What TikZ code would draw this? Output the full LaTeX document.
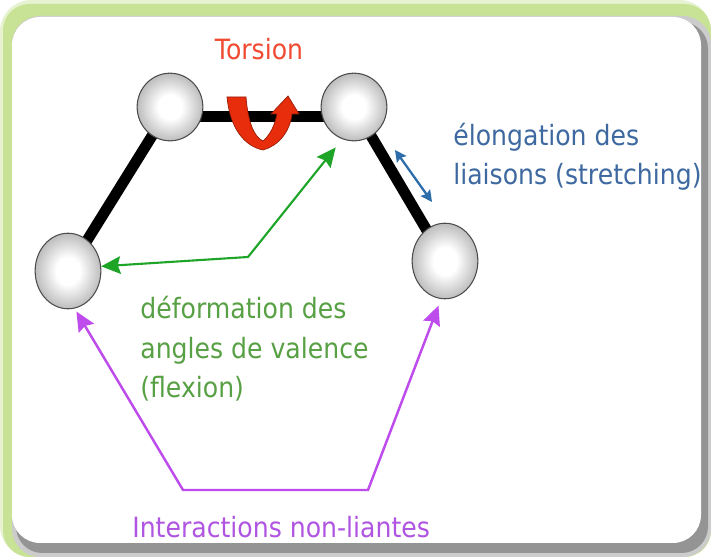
\documentclass[tikz,border=0pt]{standalone}
\usepackage{fontspec}
\setmainfont{DejaVu Sans}[FakeStretch=0.9]
\usetikzlibrary{arrows.meta,shapes.geometric,positioning}
\definecolor{torsionred}{RGB}{240,75,50}
\definecolor{ribbonred}{RGB}{232,45,12}
\definecolor{stretchblue}{RGB}{62,105,160}
\definecolor{arrowblue}{RGB}{45,110,170}
\definecolor{flexgreen}{RGB}{88,160,68}
\definecolor{arrowgreen}{RGB}{30,165,40}
\definecolor{nbviolet}{RGB}{175,85,225}
\definecolor{arrowviolet}{RGB}{190,75,235}
\definecolor{glowgreen}{RGB}{200,226,150}
\pgfdeclareradialshading{atomshade}{\pgfpoint{0bp}{0bp}}{color(0bp)=(white);
 color(9bp)=(white); color(25bp)=(black!26); color(50bp)=(black!26)}
\begin{document}
\begin{tikzpicture}[x=0.02cm,y=-0.02cm,>=Stealth,line cap=round,
 atom/.style={ellipse,draw=black!70,line width=.6pt,inner sep=0pt,
  shading=atomshade,minimum width=37.4pt,minimum height=38.5pt},
 bond/.style={line width=6.2pt,line cap=butt},
 tip/.style={{Stealth[length=11pt,width=10pt,inset=1.5pt]}-{Stealth[length=11pt,width=10pt,inset=1.5pt]}},
 lbl/.style={font=\fontsize{15.9}{22.7}\selectfont,inner sep=0pt,align=left}]
 \useasboundingbox (0,0) rectangle (711,557);
 \fill[white] (0,0) rectangle (711,557);
 \fill[glowgreen!45,rounded corners=18pt] (0,0) rectangle (711,557);
 \fill[glowgreen,rounded corners=15pt] (3,4) rectangle (711,557);
 \fill[black!20,rounded corners=16pt] (12,16) rectangle (711,557);
 \fill[black!42,rounded corners=15pt] (16,22) rectangle (708,553);
 \fill[white,rounded corners=16pt] (12,17) rectangle (701,543);
 \coordinate (c1) at (170,107);
 \coordinate (c2) at (354,107);
 \coordinate (c3) at (68,271);
 \coordinate (c4) at (445,261);
 \draw[bond] (c3) -- (c1);
 \draw[bond] ([yshift=-5.5pt]c1) -- ([yshift=-5.5pt]c2);
 \draw[bond] (c2) -- (c4);
 \node[atom] (A1) at (c1) {};
 \node[atom] (A2) at (c2) {};
 \node[atom,minimum height=43pt] (A3) at (c3) {};
 \node[atom,minimum height=43pt] (A4) at (c4) {};
 \fill[ribbonred,draw=ribbonred!65!black,line width=.4pt]
  (227,97) -- (246,97) .. controls (248,122) and (254,137) .. (263,141)
  .. controls (270,135) and (275,125) .. (277,114) -- (271,114) -- (288,96)
  -- (299,114) -- (292,114) .. controls (290,132) and (278,146) .. (263,150)
  .. controls (244,146) and (230,128) .. (227,97) -- cycle;
 \coordinate (s1) at (395,150);
 \coordinate (s2) at (432,202);
 \draw[{Stealth[length=6.5pt,width=6.5pt,inset=1pt]}-{Stealth[length=6.5pt,width=6.5pt,inset=1pt]},arrowblue,line width=1.3pt] (s1) -- (s2);
 \draw[tip,arrowgreen,line width=1.2pt,shorten >=6pt]
  (A3.8) -- (248,257) -- (A2.250);
 \draw[tip,arrowviolet,line width=1.4pt,shorten <=2pt,shorten >=4pt]
  (A3.280) -- (183,490) -- (368,490) -- (A4.264);
 \node[lbl,text=torsionred,anchor=base] (tors) at (259,60) {Torsion};
 \node[lbl,text=stretchblue,anchor=base west] (stre) at (453,185) {élongation des\\liaisons (stretching)};
 \node[lbl,text=flexgreen,anchor=base west] (flex) at (140,398) {déformation des\\angles de valence\\(flexion)};
 \node[lbl,text=nbviolet,anchor=base west] (nonb) at (132,538) {Interactions non-liantes};
\end{tikzpicture}
\end{document}
